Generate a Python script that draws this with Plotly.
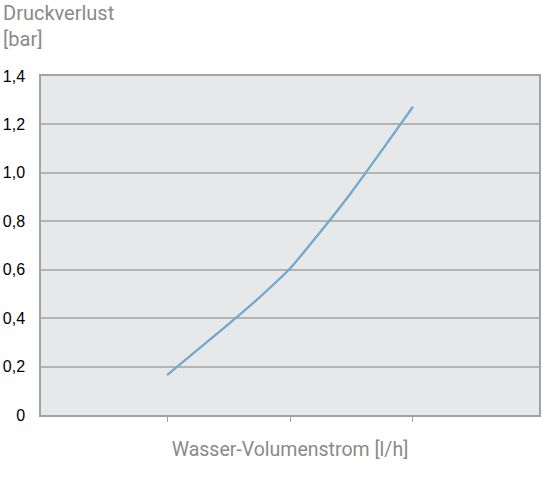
import plotly.graph_objects as go

# Data (x axis positions of the three ticks are 1, 2, 3)
flow = [1.0, 1.25, 1.5, 1.75, 2.0, 2.25, 2.5, 2.75, 3.0]
pressure_loss = [0.165, 0.27, 0.375, 0.485, 0.605, 0.758, 0.92, 1.095, 1.273]

x_ticks = [1, 2, 3]
y_ticks = [0, 0.2, 0.4, 0.6, 0.8, 1.0, 1.2, 1.4]
y_tick_labels = ["0", "0,2", "0,4", "0,6", "0,8", "1,0", "1,2", "1,4"]

y_title = "Druckverlust<br>[bar]"
x_title = "Wasser-Volumenstrom [l/h]"

title_font = "Roboto, Liberation Sans Narrow, sans-serif"
grey_text = "#8a8a8a"
frame = "#a3a3a3"

fig = go.Figure()
fig.add_trace(go.Scatter(
    x=flow, y=pressure_loss, mode="lines",
    line=dict(color="#70a8ce", width=2.3, shape="spline", smoothing=0.6),
    hoverinfo="skip", showlegend=False,
))

fig.update_layout(
    width=551, height=478,
    margin=dict(l=41, r=12, t=76, b=63, autoexpand=False),
    paper_bgcolor="white",
    plot_bgcolor="#e7e8e9",
    font=dict(family="Liberation Sans, Arial, sans-serif", color="black"),
    showlegend=False,
    xaxis=dict(
        range=[-0.025, 4.025],
        tickvals=x_ticks,
        showticklabels=False,
        ticks="outside", ticklen=5, tickwidth=1, tickcolor=frame,
        showgrid=False, zeroline=False,
        showline=True, mirror=True, linecolor=frame, linewidth=1.5,
        automargin=False,
        title=dict(text=x_title, standoff=22,
                   font=dict(family=title_font, size=19.5, color=grey_text)),
    ),
    yaxis=dict(
        range=[0, 1.4],
        tickvals=y_ticks, ticktext=y_tick_labels,
        tickfont=dict(size=16, color="black"),
        ticks="", ticklabelstandoff=11,
        showgrid=True, gridcolor="#b3b3b3", gridwidth=1.5,
        zeroline=False, automargin=False,
        showline=True, mirror=True, linecolor=frame, linewidth=1.5,
    ),
    annotations=[dict(
        text=y_title, xref="paper", yref="paper",
        x=0, xshift=-40, y=1, yshift=77,
        xanchor="left", yanchor="top", align="left", showarrow=False,
        font=dict(family=title_font, size=20, color=grey_text),
    )],
)

fig.write_html("out.html", config={"displayModeBar": False},
               post_script="document.body.style.margin='0';")
